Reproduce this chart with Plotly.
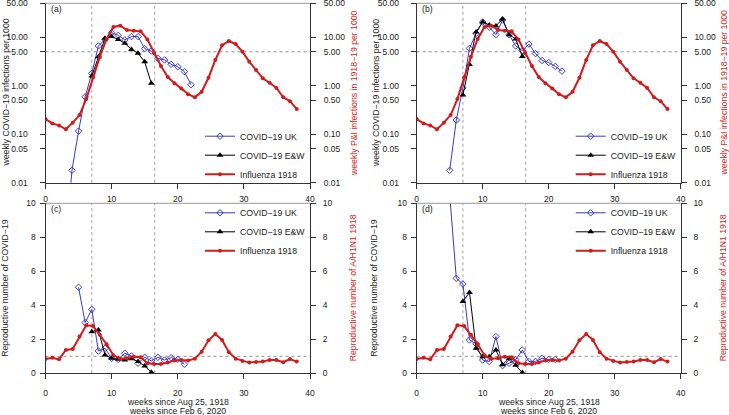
import math
import plotly.graph_objects as go

W, H = 729, 415

# ---------------- data ----------------
flu_weeks = [0.00, 1.03, 2.05, 3.08, 4.11, 5.14, 6.16, 7.19, 8.22, 9.24,
             10.27, 11.30, 12.32, 13.35, 14.38, 15.41, 16.43, 17.46, 18.49, 19.51,
             20.54, 21.57, 22.59, 23.62, 24.65, 25.68, 26.70, 27.73, 28.76, 29.78,
             30.81, 31.84, 32.86, 33.89, 34.92, 35.95, 36.97, 38.00]
flu_incidence = [0.205, 0.167, 0.152, 0.126, 0.173, 0.248, 0.53, 1.49, 3.97, 9.2,
                 16.3, 17.3, 14.1, 13.6, 13.2, 9.0, 4.65, 2.55, 1.51, 1.12,
                 0.88, 0.67, 0.575, 0.75, 1.46, 3.39, 6.8, 8.35, 7.25, 5.04,
                 3.13, 2.1, 1.42, 1.15, 0.90, 0.575, 0.48, 0.33]
flu_R = [0.84, 0.92, 0.82, 1.37, 1.43, 2.16, 2.82, 2.78, 2.27, 1.71,
         1.06, 0.86, 0.88, 0.98, 0.94, 0.59, 0.55, 0.55, 0.63, 0.75,
         0.78, 0.76, 0.86, 1.27, 1.94, 2.31, 1.96, 1.24, 0.86, 0.73,
         0.63, 0.67, 0.69, 0.78, 0.78, 0.65, 0.84, 0.69]

# panel (a)
uk_weeks_a = [3, 4, 5, 6, 7, 8, 9, 10, 11, 12, 13, 14, 15, 16, 17, 18, 19, 20, 21, 22]
uk_inc_a = [0.0004, 0.018, 0.116, 0.59, 1.8, 6.6, 9.0, 12.4, 10.9, 8.8,
            10.3, 10.3, 5.8, 5.2, 3.66, 3.39, 2.76, 2.46, 1.95, 1.05]
ew_weeks_a = [7, 8, 9, 10, 11, 12, 13, 14, 15, 16]
ew_inc_a = [1.58, 3.97, 9.5, 10.3, 9.0, 7.5, 5.6, 4.65, 3.1, 1.12]

# panel (b)
uk_weeks_b = [5, 6, 7, 8, 9, 10, 11, 12, 13, 14, 15, 16, 17, 18, 19, 20, 21, 22]
uk_inc_b = [0.018, 0.196, 0.9, 5.9, 12.0, 20.6, 16.0, 11.3, 22.6, 11.3,
            6.6, 5.3, 7.2, 4.6, 3.3, 3.0, 2.5, 2.0]
ew_weeks_b = [7, 8, 9, 10, 11, 12, 13, 14, 15, 16]
ew_inc_b = [0.64, 2.75, 12.8, 20.6, 17.9, 17.0, 23.8, 11.3, 9.2, 4.0]

# panel (c)
uk_weeks_c = [5, 6, 7, 8, 9, 10, 11, 12, 13, 14, 15, 16, 17, 18, 19, 20, 21]
uk_R_c = [5.06, 2.98, 3.76, 1.31, 1.47, 0.88, 0.82, 1.18, 1.02, 0.59,
          0.94, 0.73, 0.94, 0.78, 0.92, 0.82, 0.53]
ew_weeks_c = [7, 8, 9, 10, 11, 12, 13, 14, 15, 16]
ew_R_c = [2.45, 2.55, 1.08, 0.88, 0.82, 0.78, 0.86, 0.69, 0.43, 0.06]

# panel (d)
uk_weeks_d = [5, 6, 7, 8, 9, 10, 11, 12, 13, 14, 15, 16, 17, 18, 19, 20, 21]
uk_R_d = [10.5, 5.59, 5.25, 1.96, 1.73, 0.78, 0.69, 2.16, 0.45, 0.59,
          0.80, 1.37, 0.69, 0.70, 0.88, 0.82, 0.82]
ew_weeks_d = [7, 8, 9, 10, 11, 12, 13, 14, 15, 16]
ew_R_d = [4.22, 4.76, 1.47, 0.98, 0.98, 1.37, 0.51, 0.88, 0.47, 0.04]

log_ticks = [0.01, 0.05, 0.1, 0.5, 1, 5, 10, 50]
log_ticktext = ["0.01", "0.05", "0.10", "0.50", "1.00", "5.00", "10.00", "50.00"]
lin_ticks = [0, 2, 4, 6, 8, 10]
x_ticks = [0, 10, 20, 30, 40]
vlines = [7, 16.5]

# ---------------- styling ----------------
BLUE = "#3a3ac4"
BLACK = "#000000"
RED = "#d01c1c"
AXC = "#333333"
TXT = "#1a1a1a"
FONT = "Liberation Sans, Arial, Helvetica, sans-serif"
FS = 8.7
TFS = 8.5


def px_x(p):
    return p / W


def px_y(p):
    return 1 - p / H


XA = (45.5, 310.0)
XB = (416.7, 680.7)
YT = (3.3, 182.7)
YB = (203.3, 373.3)

fig = go.Figure()

panels = [
    ("a", "x", "y", "y2", XA, YT, True, (uk_weeks_a, uk_inc_a), (ew_weeks_a, ew_inc_a), flu_incidence, "legend", "(a)"),
    ("b", "x2", "y3", "y4", XB, YT, True, (uk_weeks_b, uk_inc_b), (ew_weeks_b, ew_inc_b), flu_incidence, "legend2", "(b)"),
    ("c", "x3", "y5", "y6", XA, YB, False, (uk_weeks_c, uk_R_c), (ew_weeks_c, ew_R_c), flu_R, "legend3", "(c)"),
    ("d", "x4", "y7", "y8", XB, YB, False, (uk_weeks_d, uk_R_d), (ew_weeks_d, ew_R_d), flu_R, "legend4", "(d)"),
]

layout = dict(
    width=W, height=H,
    margin=dict(l=0, r=0, t=0, b=0, autoexpand=False),
    paper_bgcolor="white", plot_bgcolor="white",
    font=dict(family=FONT, size=FS, color=TXT),
    showlegend=True,
)

shapes = []
annotations = []


def axname(a, kind):
    return kind + "axis" + a[1:]


for (name, xa, yl, yr, xpx, ypx, islog, uk, ew, flu, leg, lab) in panels:
    xdom = [px_x(xpx[0]), px_x(xpx[1])]
    ydom = [px_y(ypx[1]), px_y(ypx[0])]
    common_tick = dict(ticks="outside", ticklen=5, tickwidth=1, tickcolor=AXC,
                       showline=True, linecolor=AXC, linewidth=1,
                       showgrid=False, zeroline=False, automargin=False,
                       ticklabeloverflow="allow",
                       tickfont=dict(family=FONT, size=TFS, color=TXT))
    layout[axname(xa, "x")] = dict(domain=xdom, anchor=yl, range=[0, 40],
                                   tickvals=x_ticks,
                                   ticklabelstandoff=(3 if islog else 6),
                                   **common_tick)
    if islog:
        yspec = dict(type="log", range=[math.log10(0.01) - 1e-4, math.log10(50) + 1e-4],
                     tickvals=log_ticks, ticktext=log_ticktext)
        href = 5
        lso, rso = 10, 6
    else:
        yspec = dict(range=[0, 10.0001], tickvals=lin_ticks)
        href = 1
        lso, rso = 2, 5
    layout[axname(yl, "y")] = dict(domain=ydom, anchor=xa, side="left",
                                   ticklabelstandoff=lso, **yspec, **common_tick)
    layout[axname(yr, "y")] = dict(overlaying=yl, anchor=xa, side="right",
                                   ticklabelstandoff=rso, **yspec, **common_tick)

    fig.add_trace(go.Scatter(
        x=uk[0], y=uk[1], xaxis=xa, yaxis=yl, mode="lines+markers",
        name="COVID\u221219 UK", legend=leg,
        line=dict(color=BLUE, width=1),
        marker=dict(symbol="diamond-open", size=5, color=BLUE, line=dict(width=1, color=BLUE)),
    ))
    fig.add_trace(go.Scatter(
        x=ew[0], y=ew[1], xaxis=xa, yaxis=yl, mode="lines+markers",
        name="COVID\u221219 E&W", legend=leg,
        line=dict(color=BLACK, width=1),
        marker=dict(symbol="triangle-up", size=6, color=BLACK),
    ))
    fig.add_trace(go.Scatter(
        x=flu_weeks, y=flu, xaxis=xa, yaxis=yr, mode="lines+markers",
        name="Influenza 1918", legend=leg,
        line=dict(color=RED, width=2),
        marker=dict(symbol="circle", size=4, color=RED),
    ))

    for v in vlines:
        shapes.append(dict(type="line", xref=xa, x0=v, x1=v,
                           yref=yl + " domain", y0=0, y1=1, layer="below",
                           line=dict(color="#b0b0b0", width=1.2, dash="dot")))
    shapes.append(dict(type="line", xref=xa + " domain", x0=0, x1=1,
                       yref=yl, y0=href, y1=href, layer="below",
                       line=dict(color="#909090", width=1, dash="3px,3px")))
    shapes.append(dict(type="line", xref="paper", yref="paper",
                       x0=xdom[0], x1=xdom[1], y0=ydom[1], y1=ydom[1],
                       line=dict(color="#999999", width=1)))

    annotations.append(dict(text=lab, xref="paper", yref="paper",
                            x=px_x(xpx[0] + 3), y=px_y(ypx[0] + 6),
                            xanchor="left", yanchor="middle", showarrow=False,
                            font=dict(size=FS, color=TXT)))

    if islog:
        layout[leg] = dict(x=px_x(xpx[1] - 110), y=px_y(ypx[1] + 6),
                           xanchor="left", yanchor="bottom",
                           bgcolor="rgba(0,0,0,0)", borderwidth=0,
                           font=dict(size=FS, color=TXT), tracegroupgap=0)
    else:
        layout[leg] = dict(x=px_x(xpx[1] - 110), y=px_y(ypx[0] - 5),
                           xanchor="left", yanchor="top",
                           bgcolor="rgba(0,0,0,0)", borderwidth=0,
                           font=dict(size=FS, color=TXT), tracegroupgap=0)

left_titles = [
    ("weekly COVID\u221219 infections per 1000", 5.5, (YT[0] + YT[1]) / 2),
    ("weekly COVID\u221219 infections per 1000", 376.0, (YT[0] + YT[1]) / 2),
    ("Reproductive number of COVID\u221219", 5.5, (YB[0] + YB[1]) / 2),
    ("Reproductive number of COVID\u221219", 374.5, (YB[0] + YB[1]) / 2),
]
right_titles = [
    ("weekly P&I infections in 1918\u221219 per 1000", 354.0, (YT[0] + YT[1]) / 2),
    ("weekly P&I infections in 1918\u221219 per 1000", 723.5, (YT[0] + YT[1]) / 2),
    ("Reproductive number of A/H1N1 1918", 353.0, (YB[0] + YB[1]) / 2),
    ("Reproductive number of A/H1N1 1918", 723.0, (YB[0] + YB[1]) / 2),
]
for txt, xp, yp in left_titles:
    annotations.append(dict(text=txt, xref="paper", yref="paper", x=px_x(xp), y=px_y(yp),
                            xanchor="center", yanchor="middle", textangle=-90, showarrow=False,
                            font=dict(size=FS, color=TXT)))
for txt, xp, yp in right_titles:
    annotations.append(dict(text=txt, xref="paper", yref="paper", x=px_x(xp), y=px_y(yp),
                            xanchor="center", yanchor="middle", textangle=-90, showarrow=False,
                            font=dict(size=FS, color=RED)))

for xpx in (XA, XB):
    cx = (xpx[0] + xpx[1]) / 2
    annotations.append(dict(text="weeks since Aug 25, 1918", xref="paper", yref="paper",
                            x=px_x(cx), y=px_y(401.5), xanchor="center", yanchor="middle",
                            showarrow=False, font=dict(size=FS, color=TXT)))
    annotations.append(dict(text="weeks since Feb 6, 2020", xref="paper", yref="paper",
                            x=px_x(cx), y=px_y(411.0), xanchor="center", yanchor="middle",
                            showarrow=False, font=dict(size=FS, color=TXT)))

layout["shapes"] = shapes
layout["annotations"] = annotations
fig.update_layout(**layout)

fig.write_html(
    "out.html",
    config={"displayModeBar": False},
    post_script="document.body.style.margin='0';document.body.style.padding='0';"
                "document.body.style.overflow='hidden';",
)
